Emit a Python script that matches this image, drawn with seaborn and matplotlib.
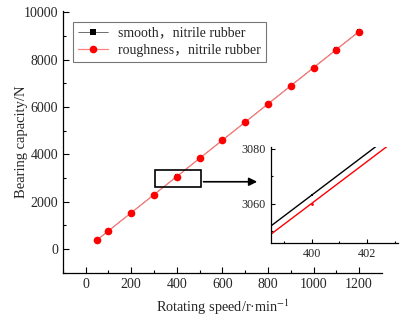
import matplotlib
matplotlib.use("Agg")
import matplotlib.pyplot as plt
import seaborn as sns
import pandas as pd
from matplotlib.patches import Rectangle

speed = [50, 100, 200, 300, 400, 500, 600, 700, 800, 900, 1000, 1100, 1200]
smooth = [383, 766, 1532, 2298, 3063, 3829, 4595, 5361, 6127, 6893, 7659, 8425, 9190]
rough = [382, 765, 1530, 2295, 3060, 3825, 4590, 5355, 6120, 6885, 7650, 8415, 9180]
label_smooth = "smooth，nitrile rubber"
label_rough = "roughness，nitrile rubber"

sns.set_style("ticks")
plt.rcParams["font.family"] = ["Liberation Serif", "Noto Sans CJK SC"]
plt.rcParams["mathtext.fontset"] = "stix"

df = pd.DataFrame({"speed": speed, "smooth": smooth, "rough": rough})
pink = (1, 0.5, 0.5)

fig = plt.figure(figsize=(4.08, 3.22), dpi=100)
ax = fig.add_axes([0.154, 0.153, 0.782, 0.813])

sns.lineplot(data=df, x="speed", y="smooth", ax=ax, color="black", lw=0.4,
             marker="s", markersize=3, markeredgewidth=0, label=label_smooth)
sns.lineplot(data=df, x="speed", y="rough", ax=ax, color="#ff0000", lw=0.9,
             marker="o", markersize=5.5, markeredgewidth=0, label=label_rough)
ax.lines[1].set_color(pink)
ax.lines[1].set_markerfacecolor("#ff0000")

ax.set_xlim(-100, 1300)
ax.set_ylim(-1000, 10050)
ax.set_xticks([0, 200, 400, 600, 800, 1000, 1200])
ax.set_xticks(range(-100, 1300, 100), minor=True)
ax.set_yticks([0, 2000, 4000, 6000, 8000, 10000])
ax.set_yticks(range(-1000, 10001, 1000), minor=True)
ax.tick_params(which="both", direction="in", labelsize=10, color="black", width=0.8)
ax.tick_params(which="major", length=4)
ax.tick_params(which="minor", length=2)
for s in ["top", "right"]:
    ax.spines[s].set_visible(False)
for s in ["left", "bottom"]:
    ax.spines[s].set_color("black")
    ax.spines[s].set_linewidth(0.9)
ax.set_xlabel("Rotating speed/r·min$^{-1}$", fontsize=10.3, labelpad=5)
ax.set_ylabel("Bearing capacity/N", fontsize=10.5, labelpad=-3)

leg = ax.legend(loc="upper left", bbox_to_anchor=(0.01, 0.985), fontsize=10,
                frameon=True, fancybox=False, edgecolor="#555555",
                borderpad=0.35, labelspacing=0.3, handlelength=2.2, handletextpad=0.7)
leg.get_frame().set_linewidth(0.8)
leg.legend_handles[0].set_markersize(4)
leg.legend_handles[1].set_color(pink)
leg.legend_handles[1].set_markerfacecolor("#ff0000")
leg.legend_handles[1].set_markeredgecolor("#ff0000")

ax.add_patch(Rectangle((305, 2600), 200, 720, fill=False, edgecolor="black", lw=1.2, zorder=5))
ax.annotate("", xy=(765, 2840), xytext=(505, 2840),
            arrowprops=dict(arrowstyle="-|>", color="black", lw=1.2, mutation_scale=12))

ins = fig.add_axes([0.664, 0.245, 0.311, 0.298])
sns.lineplot(data=df, x="speed", y="smooth", ax=ins, color="black", lw=1.0,
             marker="s", markersize=2, markeredgewidth=0)
sns.lineplot(data=df, x="speed", y="rough", ax=ins, color="#ff0000", lw=1.0,
             marker="o", markersize=2, markeredgewidth=0)
ins.set_xlim(398.54, 403.1)
ins.set_ylim(3045.6, 3080.5)
ins.set_xticks([400, 402])
ins.set_xticks([399, 401, 403], minor=True)
ins.set_yticks([3060, 3080])
ins.set_yticks([3050, 3070], minor=True)
ins.tick_params(which="both", direction="in", labelsize=8.7, color="black", width=0.8)
ins.tick_params(which="major", length=3)
ins.tick_params(which="minor", length=1.5)
ins.set_xlabel("")
ins.set_ylabel("")
ins.patch.set_alpha(0)
for s in ["top", "right"]:
    ins.spines[s].set_visible(False)
for s in ["left", "bottom"]:
    ins.spines[s].set_color("black")
    ins.spines[s].set_linewidth(0.9)

fig.savefig("out.png", dpi=100)
